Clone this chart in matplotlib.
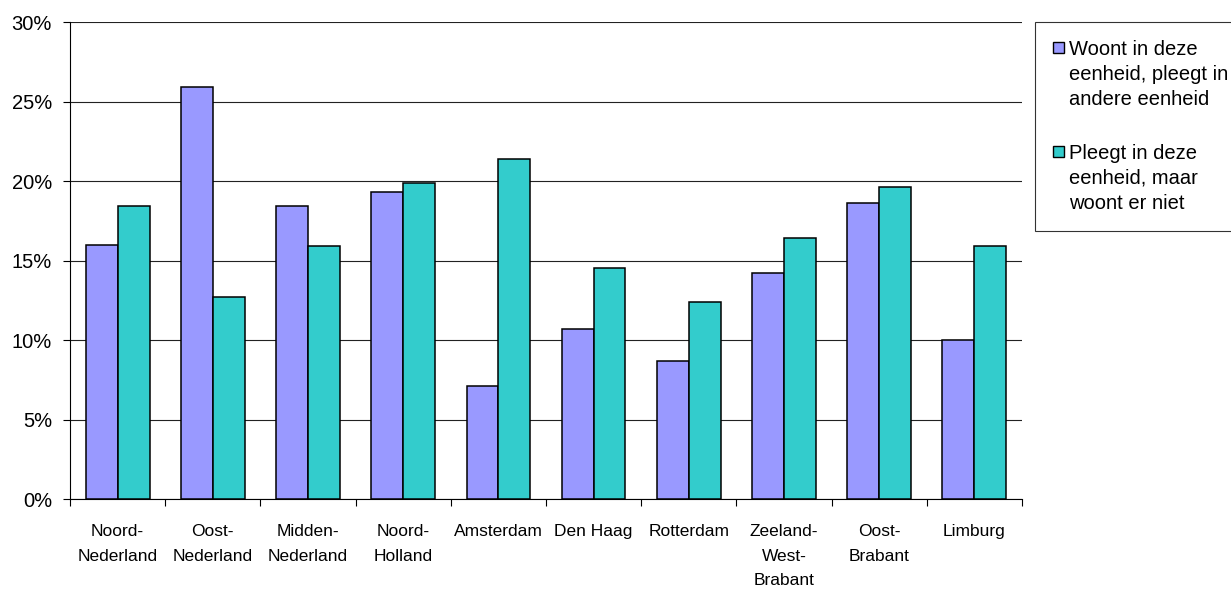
import matplotlib
matplotlib.use("Agg")
import matplotlib.pyplot as plt
import numpy as np
from matplotlib.ticker import FuncFormatter, FixedLocator
from matplotlib.legend_handler import HandlerPatch
from matplotlib.patches import Rectangle
from matplotlib.container import BarContainer

plt.rcParams['font.family'] = ['Liberation Sans', 'DejaVu Sans']

categories = ["Noord-\nNederland", "Oost-\nNederland", "Midden-\nNederland", "Noord-\nHolland",
              "Amsterdam", "Den Haag", "Rotterdam", "Zeeland-\nWest-\nBrabant", "Oost-\nBrabant", "Limburg"]
woont = [16.0, 25.9, 18.4, 19.3, 7.1, 10.7, 8.7, 14.2, 18.6, 10.0]
pleegt = [18.4, 12.7, 15.9, 19.9, 21.4, 14.5, 12.4, 16.4, 19.6, 15.9]
series_labels = ["Woont in deze\neenheid, pleegt in\nandere eenheid",
                 "Pleegt in deze\neenheid, maar\nwoont er niet"]

fig = plt.figure(figsize=(12.31, 5.9), dpi=100)
ax = fig.add_axes([0.0569, 0.1542, 0.7733, 0.8085])

x = np.arange(len(categories))
w = 0.335
ax.bar(x - w/2, woont, w, color='#9999FF', edgecolor='black', linewidth=1.1, label=series_labels[0], zorder=3)
ax.bar(x + w/2, pleegt, w, color='#33CCCC', edgecolor='black', linewidth=1.1, label=series_labels[1], zorder=3)

ax.set_xlim(-0.5, len(categories) - 0.5)
ax.set_ylim(0, 30)
ax.set_yticks(np.arange(0, 31, 5))
ax.yaxis.set_major_formatter(FuncFormatter(lambda v, p: f"{int(v)}%"))
ax.yaxis.grid(True, color='#222222', linewidth=0.8, zorder=0)
ax.set_axisbelow(True)

ax.xaxis.set_major_locator(FixedLocator(np.arange(-0.5, len(categories), 1.0)))
ax.xaxis.set_major_formatter(FuncFormatter(lambda v, p: ""))
ax.set_xticks(x, minor=True)
ax.set_xticklabels(categories, minor=True, fontsize=12.5, va='top', linespacing=1.8)
ax.tick_params(axis='x', which='minor', length=0, pad=18)
ax.tick_params(axis='x', which='major', length=5, direction='out', width=0.8)
ax.tick_params(axis='y', length=5, direction='out', width=0.8, labelsize=14.5, pad=8)

for s in ['top', 'right']:
    ax.spines[s].set_visible(False)
ax.spines['left'].set_linewidth(0.8)
ax.spines['bottom'].set_linewidth(0.8)

LEG_FS = 14.5
LEG_LS = 1.39
SQ = 8.0


def top_square(legend, orig_handle, xdescent, ydescent, width, height, fontsize):
    line_step = LEG_LS * 0.91 * fontsize
    cy = line_step + 0.1 * fontsize + 0.33 * fontsize
    return Rectangle((-xdescent, cy - SQ / 2), SQ, SQ)


def from_first_child(legend_handle, orig_handle):
    legend_handle.update_from(orig_handle.patches[0])
    legend_handle.set_edgecolor('black')
    legend_handle.set_linewidth(1.0)


leg = fig.legend(loc='upper left', bbox_to_anchor=(0.8408, 0.963),
                 prop={'size': LEG_FS}, frameon=True, fancybox=False, edgecolor='black',
                 handlelength=SQ / LEG_FS, handleheight=0.55, handletextpad=0.25,
                 labelspacing=1.75, borderpad=0.9, borderaxespad=0,
                 handler_map={BarContainer: HandlerPatch(patch_func=top_square,
                                                         update_func=from_first_child)})
leg.get_frame().set_linewidth(0.8)
for t in leg.get_texts():
    t.set_linespacing(LEG_LS)

fig.savefig("out.png", dpi=100)
